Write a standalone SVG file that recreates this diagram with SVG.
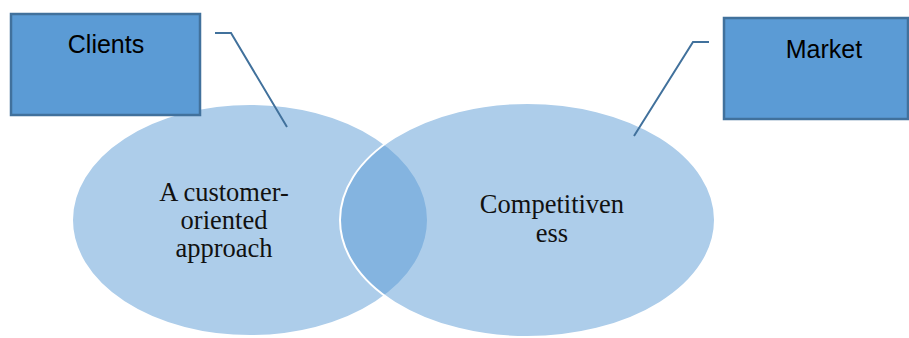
<svg xmlns="http://www.w3.org/2000/svg" width="909" height="338" viewBox="0 0 909 338">
<style>
.venn{fill:#5B9BD5;fill-opacity:0.5;stroke:#FFFFFF;stroke-width:2}
.box{fill:#5B9BD5;stroke:#41719C;stroke-width:2.5}
.lbl{font-family:"Liberation Sans",Arial,sans-serif;font-size:25px;fill:#000;text-anchor:middle}
.ser{font-family:"Liberation Serif","Times New Roman",serif;font-size:26.5px;fill:#111;text-anchor:middle}
.conn{fill:none;stroke:#41719C;stroke-width:2}
</style>
<rect width="909" height="338" fill="#FFFFFF"/>
<g id="left-circle">
<ellipse class="venn" cx="250" cy="220" rx="178" ry="116"/>
</g>
<g id="right-circle">
<ellipse class="venn" cx="527.5" cy="220" rx="187.5" ry="117"/>
</g>
<g id="left-label">
<text class="ser" x="224" y="201">A customer-</text>
<text class="ser" x="224" y="229">oriented</text>
<text class="ser" x="224" y="257">approach</text>
</g>
<g id="right-label">
<text class="ser" x="552" y="213">Competitiven</text>
<text class="ser" x="552" y="242">ess</text>
</g>
<g id="clients">
<rect class="box" x="11" y="14" width="189" height="101"/>
<text class="lbl" x="106" y="53">Clients</text>
</g>
<g id="market">
<rect class="box" x="724" y="18" width="184" height="101"/>
<text class="lbl" x="824" y="58">Market</text>
</g>
<g id="connectors">
<polyline class="conn" points="215,33 231,33 287,127"/>
<polyline class="conn" points="709,42 693,42 634,136"/>
</g>
</svg>
